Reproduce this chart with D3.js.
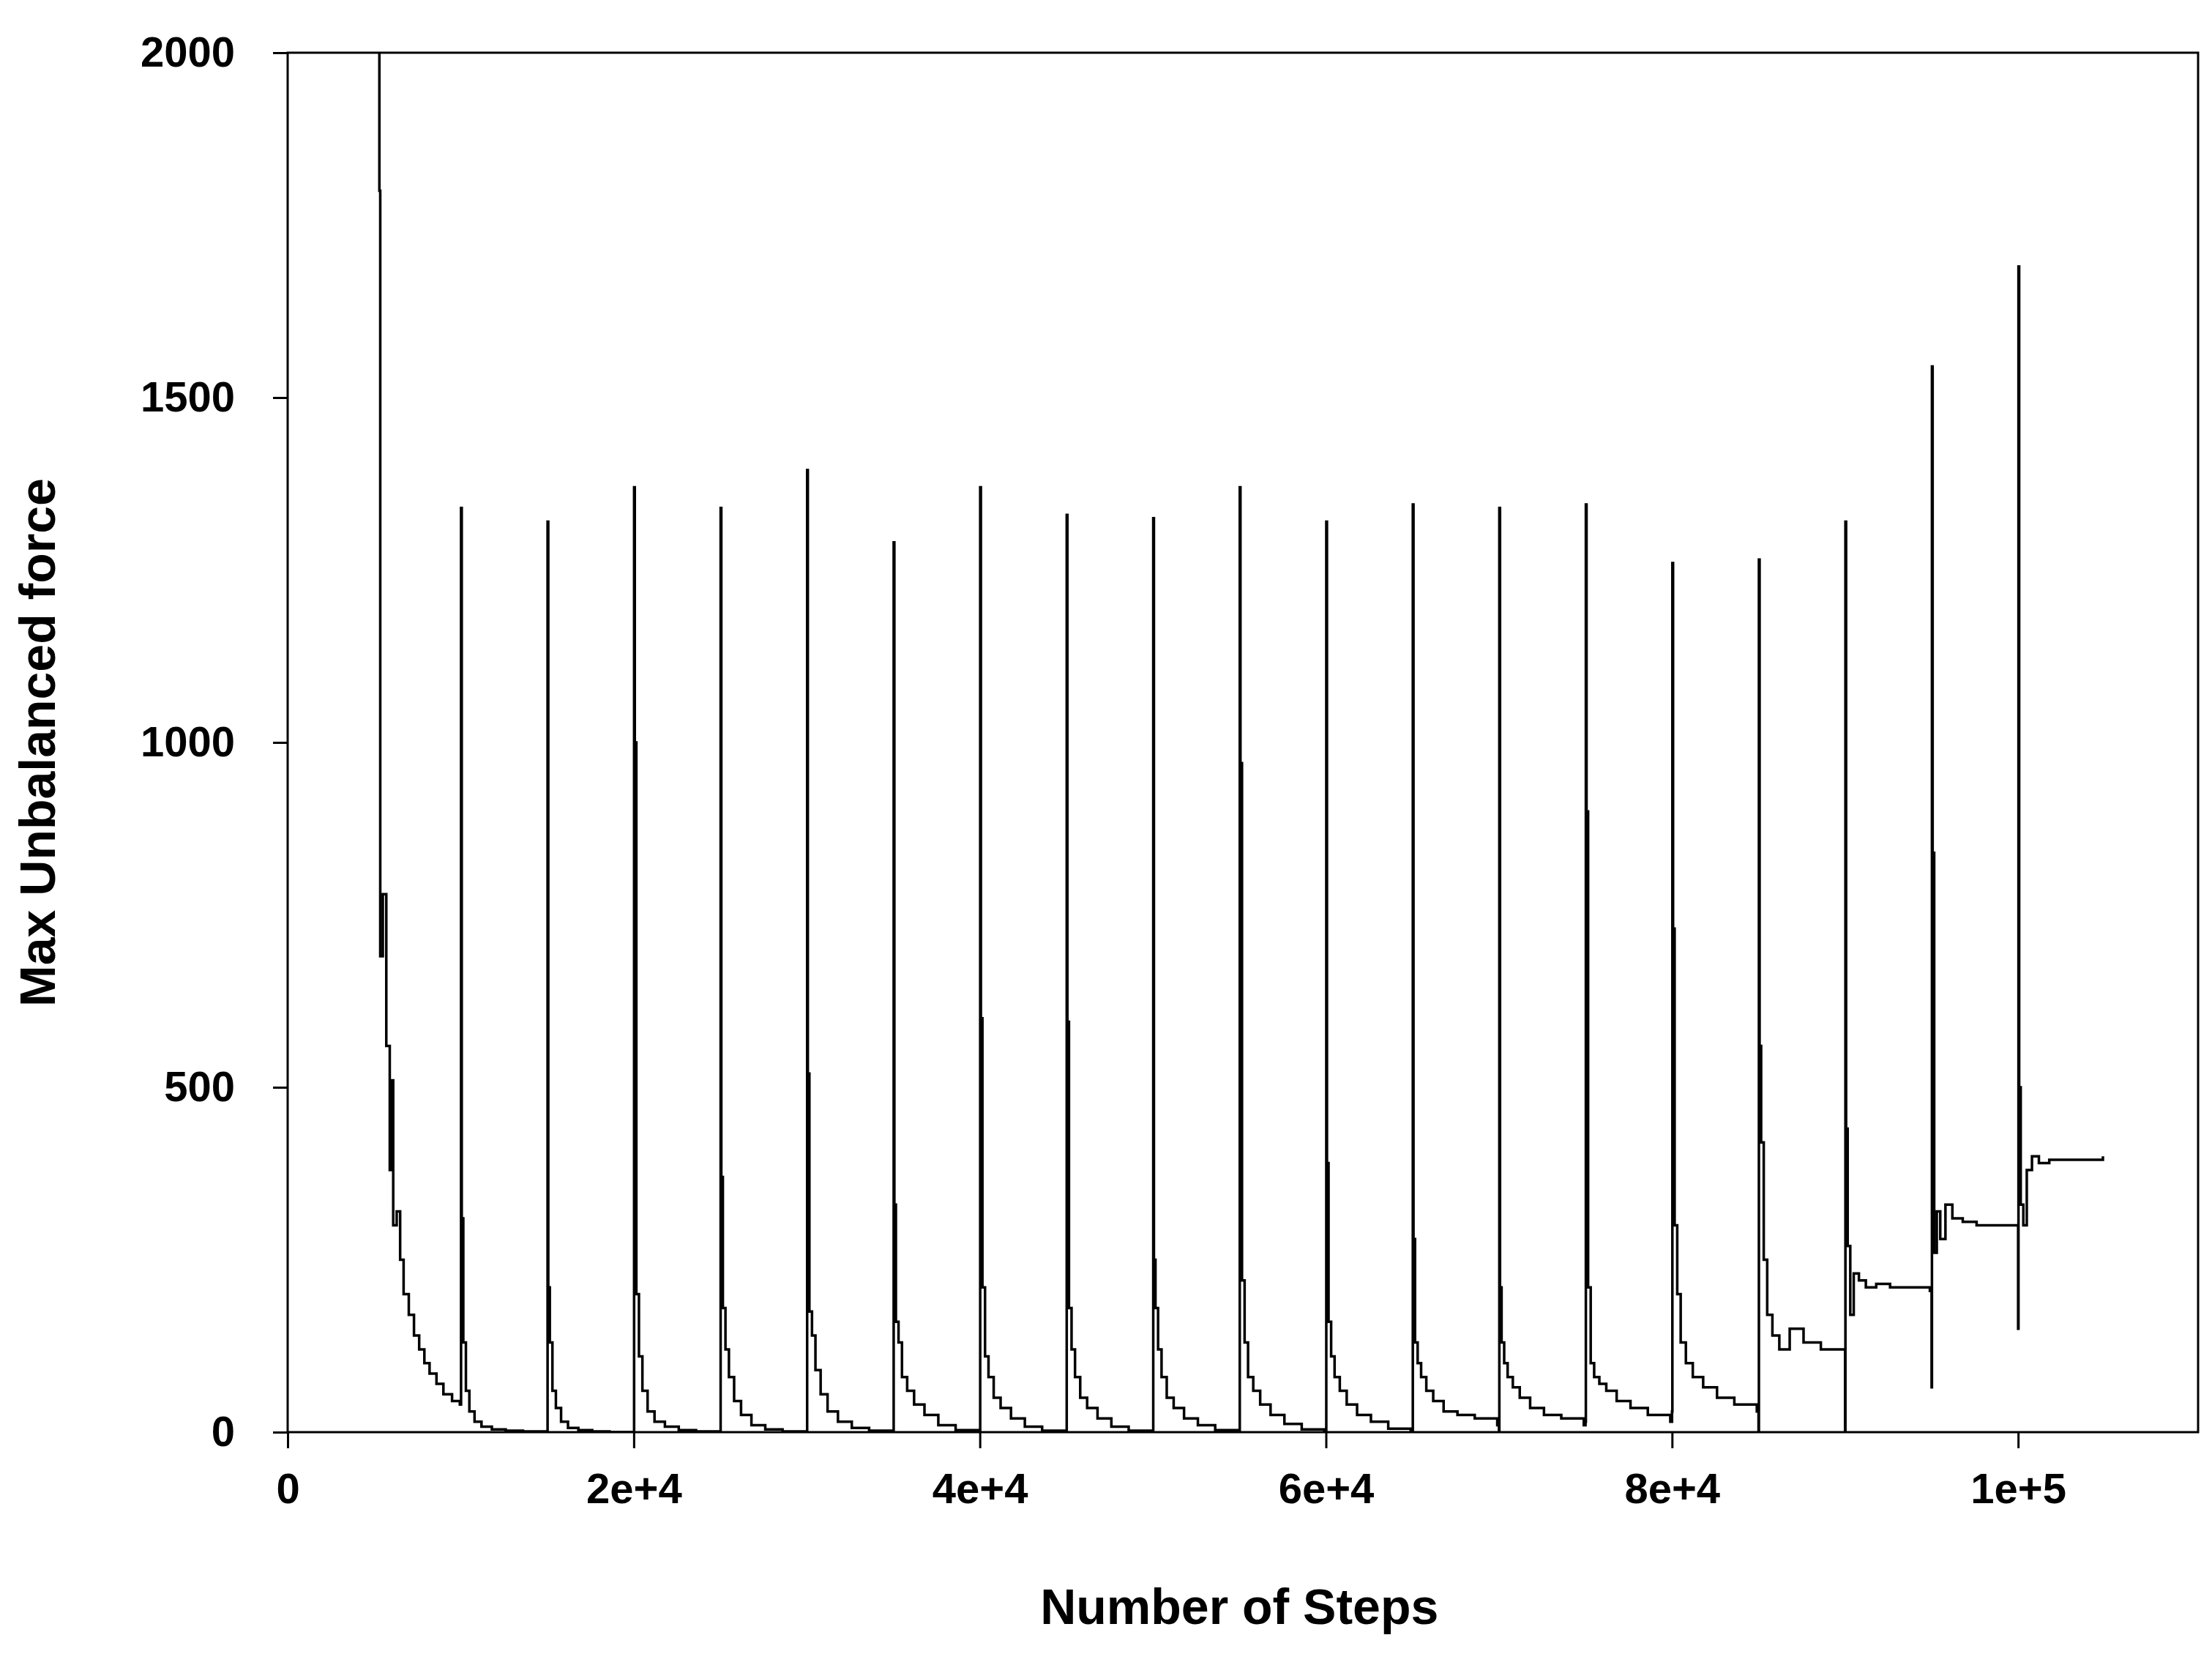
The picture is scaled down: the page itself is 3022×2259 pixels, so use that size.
<!DOCTYPE html>
<html>
<head>
<meta charset="utf-8">
<script src="https://cdn.jsdelivr.net/npm/d3@7"></script>
<style>
  body { margin: 0; background: #fff; }
  text { font-family: "Liberation Sans", Arial, sans-serif; font-weight: bold; }
</style>
</head>
<body>
<div id="graph"></div>
<script>
// first relaxation (starts near 5000 steps)
var firstSteps = [5200, 5300, 5350, 5500, 5700, 5900, 6000, 6100, 6300, 6500, 6700, 7000, 7300, 7600, 7900, 8200, 8600, 9000, 9500, 9950];
var firstForce = [2400, 1800, 690, 780, 560, 380, 510, 300, 320, 250, 200, 170, 140, 120, 100, 85, 70, 55, 45, 40];

// later cycles, one every 5000 steps
var cycleStart = [10000, 15000, 20000, 25000, 30000, 35000, 40000, 45000, 50000, 55000,
                  60000, 65000, 70000, 75000, 80000, 85000, 90000, 95000, 100000];
var cycleTrough = [40, 0, 0, 0, 0, 0, 0, 0, 0, 0, 0, 0, 0, 15, 30, 0, 0, 65, 150];
var cyclePeak = [1340, 1320, 1370, 1340, 1395, 1290, 1370, 1330, 1325, 1370,
                 1320, 1345, 1340, 1345, 1260, 1265, 1320, 1545, 1690];
var decayOffset = [60, 150, 300, 500, 800, 1200, 1800, 2600, 3600, 4900];
var cycleDecay = [
  [310, 130, 60, 30, 15, 8, 4, 2, 1, 0],
  [210, 130, 60, 35, 15, 6, 3, 1, 0, 0],
  [1000, 200, 110, 60, 30, 15, 8, 3, 1, 0],
  [370, 180, 120, 80, 45, 25, 10, 4, 1, 0],
  [520, 175, 140, 90, 55, 30, 15, 6, 2, 0],
  [330, 160, 130, 80, 60, 40, 25, 10, 3, 0],
  [600, 210, 110, 80, 50, 35, 20, 8, 2, 0],
  [595, 180, 120, 80, 50, 35, 20, 8, 2, 0],
  [250, 180, 120, 80, 50, 35, 20, 10, 3, 0],
  [970, 220, 130, 80, 60, 40, 25, 12, 4, 0],
  [390, 160, 110, 80, 60, 40, 25, 15, 5, 0],
  [280, 130, 100, 80, 60, 45, 30, 25, 20, 10],
  [210, 130, 100, 80, 65, 50, 35, 25, 20, 10],
  [900, 210, 100, 80, 70, 60, 45, 35, 25, 15],
  [730, 300, 200, 130, 100, 80, 65, 50, 40, 30],
  [560, 420, 250, 170, 140, 120, 150, 130, 120, 120],
  [440, 270, 170, 230, 220, 210, 215, 210, 210, 205],
  [840, 260, 320, 280, 330, 310, 305, 300, 300, 300],
  [500, 330, 300, 380, 400, 390, 395, 395, 395, 400]
];

var xTicks = [0, 20000, 40000, 60000, 80000, 100000];
var xTickLabels = ["0", "2e+4", "4e+4", "6e+4", "8e+4", "1e+5"];
var yTicks = [0, 500, 1000, 1500, 2000];

var margin = { top: 72, right: 19, bottom: 303, left: 393 },
    width = 3022 - margin.left - margin.right,
    height = 2259 - margin.top - margin.bottom;

var x = d3.scaleLinear().domain([0, 110400]).range([0, width]);
var y = d3.scaleLinear().domain([0, 2000]).range([height, 0]);

var points = [];
firstSteps.forEach(function(s, i) { points.push([s, firstForce[i]]); });
cycleStart.forEach(function(s, k) {
    points.push([s, cycleTrough[k]]);
    points.push([s + 20, cyclePeak[k]]);
    decayOffset.forEach(function(o, i) { points.push([s + o, cycleDecay[k][i]]); });
});

var svg = d3.select("#graph").append("svg")
    .attr("width", 3022)
    .attr("height", 2259)
    .append("g")
    .attr("transform", "translate(" + margin.left + "," + margin.top + ")");

svg.append("defs").append("clipPath").attr("id", "clip")
    .append("rect").attr("width", width).attr("height", height);

var line = d3.line()
    .x(function(d) { return x(d[0]); })
    .y(function(d) { return y(d[1]); })
    .curve(d3.curveStepAfter);

svg.append("path")
    .datum(points)
    .attr("clip-path", "url(#clip)")
    .attr("fill", "none")
    .attr("stroke", "#000")
    .attr("stroke-width", 3.5)
    .attr("d", line);

svg.append("rect")
    .attr("width", width).attr("height", height)
    .attr("fill", "none").attr("stroke", "#000").attr("stroke-width", 3);

var xAxis = d3.axisBottom(x).tickValues(xTicks).tickSize(22).tickPadding(34)
    .tickFormat(function(d, i) { return xTickLabels[i]; });
var yAxis = d3.axisLeft(y).tickValues(yTicks).tickSize(20).tickPadding(52)
    .tickFormat(d3.format("d"));

var gx = svg.append("g").attr("transform", "translate(0," + height + ")").call(xAxis);
var gy = svg.append("g").call(yAxis);
[gx, gy].forEach(function(g) {
    g.select(".domain").remove();
    g.selectAll("line").attr("stroke-width", 3);
    g.selectAll("text").attr("font-size", 58).attr("fill", "#000");
});

svg.append("text")
    .attr("x", x(55000)).attr("y", height + 262)
    .attr("text-anchor", "middle").attr("font-size", 68)
    .text("Number of Steps");

svg.append("text")
    .attr("transform", "rotate(-90)")
    .attr("x", -height / 2).attr("y", -318)
    .attr("text-anchor", "middle").attr("font-size", 68)
    .text("Max Unbalanced force");
</script>
</body>
</html>
